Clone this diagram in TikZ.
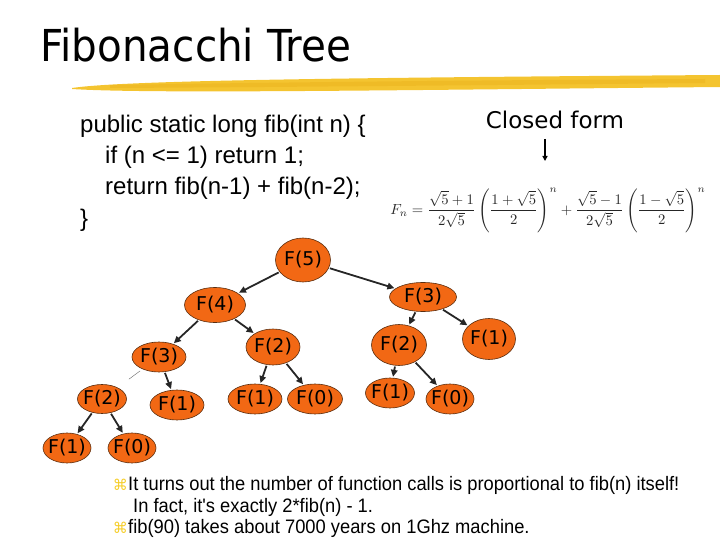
\documentclass[tikz,border=0pt]{standalone}
\usepackage{amsmath}
\usepackage{fontspec}
\setmainfont{Liberation Sans}
\newfontfamily\titlefont[FakeStretch=0.92]{DejaVu Sans}
\newfontfamily\callfont{DejaVu Sans}
\newfontfamily\notefont[FakeStretch=0.94]{Liberation Sans}
\usetikzlibrary{arrows.meta,shapes.geometric,calc}
\definecolor{callfill}{RGB}{242,104,20}
\definecolor{calldraw}{RGB}{90,45,15}
\definecolor{brush}{RGB}{244,196,48}
\definecolor{brushdark}{RGB}{236,180,30}
\definecolor{bulletyel}{RGB}{245,205,40}
\newcommand{\fcall}[1]{\makebox[0pt]{F(#1)}}

\tikzset{
  call/.style={ellipse, draw=calldraw, line width=0.6pt, fill=callfill, inner sep=0pt,
    font=\callfont\fontsize{19}{19}\selectfont},
  calledge/.style={-{Triangle[length=7pt,width=6.5pt]}, line width=1.8pt, draw=black!85,
    shorten <=1pt, shorten >=1pt},
  codeline/.style={anchor=base west, inner sep=0pt, font=\fontsize{24}{24}\selectfont},
  noteline/.style={anchor=base west, inner sep=0pt, font=\notefont\fontsize{19.5}{19.5}\selectfont},
}

\begin{document}
\begin{tikzpicture}[x=1pt,y=-1pt]
  \useasboundingbox (0,0) rectangle (720,540);
  % title and brush stroke
  \node[anchor=base west, inner sep=0pt, font=\titlefont\fontsize{44}{44}\selectfont] (title) at (40,62) {Fibonacchi Tree};
  \fill[brush] (72,88) .. controls (120,81) and (300,78) .. (720,75) -- (720,87)
    .. controls (400,90) and (150,94) .. (72,89) -- cycle;
  \fill[brushdark,opacity=0.5] (110,85) .. controls (300,82) and (500,80) .. (705,79) -- (705,83)
    .. controls (500,85) and (300,87) .. (110,88) -- cycle;

  % code
  \node[codeline] (code1) at (80,133) {public static long fib(int n) \{};
  \node[codeline] (code2) at (105,164) {if (n <= 1) return 1;};
  \node[codeline] (code3) at (105,195) {return fib(n-1) + fib(n-2);};
  \node[codeline] (code4) at (80,226) {\}};

  % closed form
  \node[anchor=base, inner sep=0pt, font=\callfont\fontsize{23}{23}\selectfont] (closed) at (555,129) {Closed form};
  \node[text=black!85, inner sep=0pt] (formula) at (548,210)
    {\resizebox{315pt}{!}{$\displaystyle F_n=\frac{\sqrt{5}+1}{2\sqrt{5}}\left(\frac{1+\sqrt{5}}{2}\right)^{n}+\frac{\sqrt{5}-1}{2\sqrt{5}}\left(\frac{1-\sqrt{5}}{2}\right)^{n}$}};
  \coordinate (cftop) at (545,139);
  \coordinate (cfbot) at (545,161);
  \draw[-{Triangle[length=5pt,width=5pt]}, line width=1.3pt] (cftop) -- (cfbot);

  % call tree
  \node[call, minimum width=55pt, minimum height=44pt] (f5) at (303,260) {\fcall{5}};
  \node[call, minimum width=61pt, minimum height=35pt] (f4) at (215,305) {\fcall{4}};
  \node[call, minimum width=67pt, minimum height=29pt] (f3r) at (423,297) {\fcall{3}};
  \node[call, minimum width=54pt, minimum height=30pt] (f3l) at (159,357) {\fcall{3}};
  \node[call, minimum width=54pt, minimum height=36pt] (f2m) at (273,347) {\fcall{2}};
  \node[call, minimum width=55pt, minimum height=41pt] (f2r) at (399,345) {\fcall{2}};
  \node[call, minimum width=53pt, minimum height=41pt] (f1r) at (489,339) {\fcall{1}};
  \node[call, minimum width=49pt, minimum height=29pt] (f2l) at (102,399) {\fcall{2}};
  \node[call, minimum width=54pt, minimum height=30pt] (f1l) at (177,405) {\fcall{1}};
  \node[call, minimum width=54pt, minimum height=30pt] (f1m) at (255,399) {\fcall{1}};
  \node[call, minimum width=55pt, minimum height=30pt] (f0m) at (315,399) {\fcall{0}};
  \node[call, minimum width=49pt, minimum height=30pt] (f1rr) at (390,393) {\fcall{1}};
  \node[call, minimum width=48pt, minimum height=30pt] (f0rr) at (450,399) {\fcall{0}};
  \node[call, minimum width=48pt, minimum height=30pt] (f1b) at (67,448) {\fcall{1}};
  \node[call, minimum width=48pt, minimum height=30pt] (f0b) at (132,448) {\fcall{0}};

  \draw[calledge] (f5) -- (f4);
  \draw[calledge] (f5) -- (f3r);
  \draw[calledge] (f4) -- (f3l);
  \draw[calledge] (f4) -- (f2m);
  \draw[calledge] (f3r) -- (f2r);
  \draw[calledge] (f3r) -- (f1r);
  \draw[black!60, line width=0.4pt, shorten <=3pt, shorten >=14pt] (f3l) -- (f2l);
  \draw[calledge] (f3l) -- (f1l);
  \draw[calledge] (f2m) -- (f1m);
  \draw[calledge] (f2m) -- (f0m);
  \draw[calledge] (f2r) -- (f1rr);
  \draw[calledge] (f2r) -- (f0rr);
  \draw[calledge] (f2l) -- (f1b);
  \draw[calledge] (f2l) -- (f0b);

  % notes
  \node[noteline] (note1) at (128,490) {It turns out the number of function calls is proportional to fib(n) itself!};
  \node[noteline] (note2) at (133,512) {In fact, it's exactly 2*fib(n) - 1.};
  \node[noteline] (note3) at (128,533) {fib(90) takes about 7000 years on 1Ghz machine.};
  \node[anchor=base east, inner sep=0pt, text=bulletyel, font=\callfont\fontsize{15}{15}\selectfont] (bul1) at (note1.base west) {⌘};
  \node[anchor=base east, inner sep=0pt, text=bulletyel, font=\callfont\fontsize{15}{15}\selectfont] (bul3) at (note3.base west) {⌘};
\end{tikzpicture}
\end{document}
